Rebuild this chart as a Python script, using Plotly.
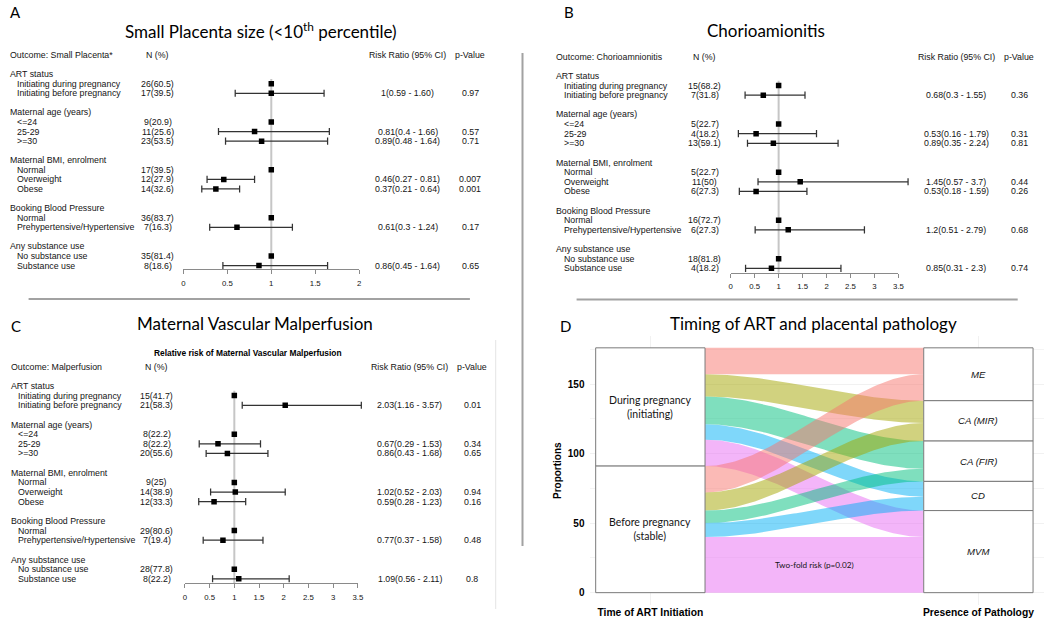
import numpy as np
import plotly.graph_objects as go

W, H = 1050, 623


def PX(x):
    return x / W


def PY(y):
    return 1 - y / H


# ------------------------------------------------------------------ data
groups = ["ART status", "Maternal age (years)", "Maternal BMI, enrolment",
          "Booking Blood Pressure", "Any substance use"]
levels = [["Initiating during pregnancy", "Initiating before pregnancy"],
          ["<=24", "25-29", ">=30"],
          ["Normal", "Overweight", "Obese"],
          ["Normal", "Prehypertensive/Hypertensive"],
          ["No substance use", "Substance use"]]
REF = 1.0

# Panel A - small placenta
a_title = "Small Placenta size (<10<sup>th</sup> percentile)"
a_outcome = "Outcome: Small Placenta*"
a_n = ["26(60.5)", "17(39.5)", "9(20.9)", "11(25.6)", "23(53.5)", "17(39.5)",
       "12(27.9)", "14(32.6)", "36(83.7)", "7(16.3)", "35(81.4)", "8(18.6)"]
a_rr = [None, 1.00, None, 0.81, 0.89, None, 0.46, 0.37, None, 0.61, None, 0.86]
a_lo = [None, 0.59, None, 0.40, 0.48, None, 0.27, 0.21, None, 0.30, None, 0.45]
a_hi = [None, 1.60, None, 1.66, 1.64, None, 0.81, 0.64, None, 1.24, None, 1.64]
a_ci = ["", "1(0.59 - 1.60)", "", "0.81(0.4 - 1.66)", "0.89(0.48 - 1.64)", "",
        "0.46(0.27 - 0.81)", "0.37(0.21 - 0.64)", "", "0.61(0.3 - 1.24)", "",
        "0.86(0.45 - 1.64)"]
a_p = ["", "0.97", "", "0.57", "0.71", "", "0.007", "0.001", "", "0.17", "", "0.65"]
a_ticks = [0, 0.5, 1, 1.5, 2]
a_ticktext = ["0", "0.5", "1", "1.5", "2"]

# Panel B - chorioamnionitis
b_title = "Chorioamionitis"
b_outcome = "Outcome: Chorioamnionitis"
b_n = ["15(68.2)", "7(31.8)", "5(22.7)", "4(18.2)", "13(59.1)", "5(22.7)",
       "11(50)", "6(27.3)", "16(72.7)", "6(27.3)", "18(81.8)", "4(18.2)"]
b_rr = [None, 0.68, None, 0.53, 0.89, None, 1.45, 0.53, None, 1.20, None, 0.85]
b_lo = [None, 0.30, None, 0.16, 0.35, None, 0.57, 0.18, None, 0.51, None, 0.31]
b_hi = [None, 1.55, None, 1.79, 2.24, None, 3.70, 1.59, None, 2.79, None, 2.30]
b_ci = ["", "0.68(0.3 - 1.55)", "", "0.53(0.16 - 1.79)", "0.89(0.35 - 2.24)", "",
        "1.45(0.57 - 3.7)", "0.53(0.18 - 1.59)", "", "1.2(0.51 - 2.79)", "",
        "0.85(0.31 - 2.3)"]
b_p = ["", "0.36", "", "0.31", "0.81", "", "0.44", "0.26", "", "0.68", "", "0.74"]
b_ticks = [0, 0.5, 1, 1.5, 2, 2.5, 3, 3.5]
b_ticktext = ["0", "0.5", "1", "1.5", "2", "2.5", "3", "3.5"]

# Panel C - maternal vascular malperfusion
c_title = "Maternal Vascular Malperfusion"
c_subtitle = "Relative risk of Maternal Vascular Malperfusion"
c_outcome = "Outcome: Malperfusion"
c_n = ["15(41.7)", "21(58.3)", "8(22.2)", "8(22.2)", "20(55.6)", "9(25)",
       "14(38.9)", "12(33.3)", "29(80.6)", "7(19.4)", "28(77.8)", "8(22.2)"]
c_rr = [None, 2.03, None, 0.67, 0.86, None, 1.02, 0.59, None, 0.77, None, 1.09]
c_lo = [None, 1.16, None, 0.29, 0.43, None, 0.52, 0.28, None, 0.37, None, 0.56]
c_hi = [None, 3.57, None, 1.53, 1.68, None, 2.03, 1.23, None, 1.58, None, 2.11]
c_ci = ["", "2.03(1.16 - 3.57)", "", "0.67(0.29 - 1.53)", "0.86(0.43 - 1.68)", "",
        "1.02(0.52 - 2.03)", "0.59(0.28 - 1.23)", "", "0.77(0.37 - 1.58)", "",
        "1.09(0.56 - 2.11)"]
c_p = ["", "0.01", "", "0.34", "0.65", "", "0.94", "0.16", "", "0.48", "", "0.8"]
c_ticks = b_ticks
c_ticktext = b_ticktext

# Panel D - alluvial
d_title = "Timing of ART and placental pathology"
d_timing = ["During pregnancy<br>(initiating)", "Before pregnancy<br>(stable)"]
d_pathology = ["ME", "CA (MIR)", "CA (FIR)", "CD", "MVM"]
d_during = [19, 16, 20, 11, 19]
d_before = [19, 13, 9, 10, 40]
d_colors = ["#F8766D", "#A3A500", "#00BF7D", "#00B0F6", "#E76BF3"]
d_axis_labels = ["Time of ART Initiation", "Presence of Pathology"]
d_note = "Two-fold risk (p=0.02)"

# ------------------------------------------------------------------ styles
TXT = "Liberation Sans, Arial, sans-serif"
TTL = "Lato, Open Sans, sans-serif"
TXTCOL = "#141414"
FS = 8.8

fig = go.Figure()
annotations = []
shapes = []
layout_axes = {}


def axname(ref):
    return ("xaxis" if ref[0] == "x" else "yaxis") + ref[1:]


def text(x, y, s, xanchor="left", size=FS, font=TXT, color=TXTCOL,
         xref="paper", yref="paper", **kw):
    annotations.append(dict(x=x, y=y, xref=xref, yref=yref, text=s,
                            showarrow=False, xanchor=xanchor, yanchor="middle",
                            font=dict(family=font, size=size, color=color),
                            borderpad=0, **kw))


def forest(cfg, outcome, n, rr, lo, hi, ci, pv, ticks, ticktext):
    xl, xd, ya = cfg["xl"], cfg["xd"], cfg["ya"]
    line0, sp = cfg["line0"], cfg["sp"]
    ybot = (cfg["axis"] - line0) / sp
    ytop = (cfg["top"] - line0) / sp
    x0, s = cfg["x0"], cfg["scale"]
    R, xmax = cfg["R"], ticks[-1]

    layout_axes[axname(ya)] = dict(domain=[PY(cfg["axis"]), PY(cfg["top"])],
                                   range=[ybot, ytop], visible=False,
                                   anchor=xl, fixedrange=True)
    layout_axes[axname(xl)] = dict(domain=[PX(x0), PX(x0 + R * s)], range=[0, R],
                                   visible=False, anchor=ya, fixedrange=True)
    layout_axes[axname(xd)] = dict(domain=[PX(x0), PX(x0 + xmax * s)],
                                   range=[0, xmax], anchor=ya, showline=True,
                                   linecolor="#8a8a8a", linewidth=1.2,
                                   ticks="outside", ticklen=4, tickwidth=1,
                                   tickcolor="#8a8a8a", tickvals=ticks,
                                   ticktext=ticktext, showgrid=False,
                                   zeroline=False, fixedrange=True,
                                   ticklabelstandoff=2,
                                   tickfont=dict(family=TXT, size=7.8, color=TXTCOL))

    # row layout
    heads, rows = [], []
    ln = 2
    for g, lv in zip(groups, levels):
        heads.append((ln, g))
        ln += 1
        for l in lv:
            rows.append((ln, l))
            ln += 1
        ln += 1

    # reference line
    fig.add_trace(go.Scatter(x=[REF, REF], y=[2.5, ybot], mode="lines",
                             line=dict(color="#c6c6c6", width=2),
                             xaxis=xl, yaxis=ya, hoverinfo="skip", showlegend=False))
    # CI lines with whiskers
    w = 0.37
    xs, ys = [], []
    for (ln, _), r, l, h in zip(rows, rr, lo, hi):
        if r is None:
            continue
        xs += [l, h, None, l, l, None, h, h, None]
        ys += [ln, ln, None, ln - w, ln + w, None, ln - w, ln + w, None]
    fig.add_trace(go.Scatter(x=xs, y=ys, mode="lines",
                             line=dict(color="#333333", width=1.25),
                             xaxis=xl, yaxis=ya, hoverinfo="skip", showlegend=False))
    # boxes
    fig.add_trace(go.Scatter(x=[REF if r is None else r for r in rr],
                             y=[ln for ln, _ in rows], mode="markers",
                             marker=dict(symbol="square", size=5.5, color="black",
                                         line=dict(width=0)),
                             xaxis=xd, yaxis=ya, hoverinfo="skip", showlegend=False))

    # texts
    gx, ix, nx, rx, pcx = cfg["gx"], cfg["ix"], cfg["nx"], cfg["rx"], cfg["pcx"]
    text(PX(gx), 0, outcome, yref=ya)
    text(PX(nx), 0, "N (%)", "center", yref=ya)
    text(PX(rx), 0, "Risk Ratio (95% CI)", "center", yref=ya)
    text(PX(pcx), 0, "p-Value", "center", yref=ya)
    for ln, g in heads:
        text(PX(gx), ln, g, yref=ya)
    for (ln, l), nn, c, p in zip(rows, n, ci, pv):
        text(PX(ix), ln, l, yref=ya)
        text(PX(nx), ln, nn, "center", yref=ya)
        if c:
            text(PX(rx), ln, c, "center", yref=ya)
        if p:
            text(PX(pcx), ln, p, "center", yref=ya)


cfgA = dict(xl="x", xd="x5", ya="y", x0=182.7, scale=88.65, R=2.3, line0=55,
            sp=9.57, axis=269.3, top=44, gx=7, ix=14.3, nx=157, rx=409, pcx=471.7)
cfgB = dict(xl="x2", xd="x6", ya="y2", x0=734.3, scale=48.3, R=4.0, line0=56.7,
            sp=9.62, axis=272.7, top=46, gx=557.6, ix=565, nx=708.3, rx=961.7, pcx=1025)
cfgC = dict(xl="x3", xd="x7", ya="y3", x0=184.3, scale=49.8, R=4.0, line0=366.7,
            sp=9.64, axis=583.3, top=356, gx=7.6, ix=15, nx=155.7, rx=410.7, pcx=473.7)

forest(cfgA, a_outcome, a_n, a_rr, a_lo, a_hi, a_ci, a_p, a_ticks, a_ticktext)
forest(cfgB, b_outcome, b_n, b_rr, b_lo, b_hi, b_ci, b_p, b_ticks, b_ticktext)
forest(cfgC, c_outcome, c_n, c_rr, c_lo, c_hi, c_ci, c_p, c_ticks, c_ticktext)

# ------------------------------------------------------------------ panel D
counts = [d_during, d_before]
total = sum(d_during) + sum(d_before)
half = 1 / 6
xL, xR = 1 + half, 2 - half

left_iv, left_strata = {}, []
y = total
for si, cs in enumerate(counts):
    top = y
    for j, c in enumerate(cs):
        left_iv[(si, j)] = (y - c, y)
        y -= c
    left_strata.append((y, top))

right_iv, right_strata = {}, []
y = total
for j in range(len(d_pathology)):
    top = y
    for si, cs in enumerate(counts):
        right_iv[(si, j)] = (y - cs[j], y)
        y -= cs[j]
    right_strata.append((y, top))


def rgba(h, a):
    h = h.lstrip("#")
    return "rgba(%d,%d,%d,%s)" % (int(h[0:2], 16), int(h[2:4], 16), int(h[4:6], 16), a)


t = np.linspace(0, 1, 80)
sm = t * t * (3 - 2 * t)
xs_curve = xL + (xR - xL) * t
for si in range(len(counts)):
    for j in range(len(d_pathology)):
        a0, a1 = left_iv[(si, j)]
        b0, b1 = right_iv[(si, j)]
        topc = a1 + (b1 - a1) * sm
        botc = a0 + (b0 - a0) * sm
        fig.add_trace(go.Scatter(
            x=np.concatenate([xs_curve, xs_curve[::-1]]),
            y=np.concatenate([topc, botc[::-1]]),
            fill="toself", mode="lines", line=dict(width=0),
            fillcolor=rgba(d_colors[j], 0.5),
            xaxis="x4", yaxis="y4", hoverinfo="skip", showlegend=False))

for (lo_, hi_), lab in zip(left_strata, d_timing):
    shapes.append(dict(type="rect", xref="x4", yref="y4", x0=1 - half, x1=1 + half,
                       y0=lo_, y1=hi_, fillcolor="white",
                       line=dict(color="#7a7a7a", width=1), layer="above"))
    text(1, (lo_ + hi_) / 2, lab, "center", size=10.5, font=TTL, xref="x4", yref="y4")
for (lo_, hi_), lab in zip(right_strata, d_pathology):
    shapes.append(dict(type="rect", xref="x4", yref="y4", x0=2 - half, x1=2 + half,
                       y0=lo_, y1=hi_, fillcolor="white",
                       line=dict(color="#7a7a7a", width=1), layer="above"))
    text(2, (lo_ + hi_) / 2, "<i>%s</i>" % lab, "center", size=9.6, xref="x4", yref="y4")

# note on the before -> MVM flow
a0, a1 = left_iv[(1, len(d_pathology) - 1)]
b0, b1 = right_iv[(1, len(d_pathology) - 1)]
text(1.5, (a0 + a1 + b0 + b1) / 4, d_note, "center", size=8.2, font=TTL,
     xref="x4", yref="y4")

pad = 0.05 * total
layout_axes["xaxis4"] = dict(domain=[PX(593), 1.0], range=[0.8175, 2.2], anchor="y4",
                             tickvals=[1, 2], ticktext=d_axis_labels, showgrid=True,
                             gridcolor="#f1f1f1", gridwidth=1, zeroline=False,
                             showline=False, ticks="", fixedrange=True,
                             tickfont=dict(family=TXT, size=10.3, color="black",
                                           weight="bold"))
layout_axes["yaxis4"] = dict(domain=[PY(604.9), PY(335.6)], range=[-pad, total + pad],
                             anchor="x4", tickvals=[0, 50, 100, 150], showgrid=True,
                             gridcolor="#f1f1f1", gridwidth=1, zeroline=False,
                             showline=False, ticks="", fixedrange=True,
                             ticklabelstandoff=5,
                             minor=dict(dtick=25, showgrid=True, gridcolor="#f4f4f4"),
                             tickfont=dict(family=TXT, size=10, color="black",
                                           weight="bold"))
text(PX(560), PY(470.3), "<b>Proportions</b>", "center", size=10, color="black",
     textangle=-90)

# ------------------------------------------------------------------ titles, letters
text(PX(261), PY(30.5), a_title, "center", size=17, font=TTL, color="black")
text(PX(770), PY(30.5), b_title, "center", size=17, font=TTL, color="black")
text(PX(254.5), PY(323.5), c_title, "center", size=17, font=TTL, color="black")
text(PX(817.8), PY(323.5), d_title, "center", size=17, font=TTL, color="black")
text(PX(248.3), PY(352.7), "<b>%s</b>" % c_subtitle, "center", size=8.4, color="black")
for lt, (lx, lyy) in zip("ABCD", [(13.7, 12.3), (571.7, 11.7), (14.5, 326), (568.3, 326)]):
    text(PX(lx), PY(lyy), lt, "center", size=15, font=TTL, color="black")

# ------------------------------------------------------------------ separators
sep = "#a2a2a2"
shapes += [
    dict(type="line", xref="paper", yref="paper", x0=PX(26.8), x1=PX(471.5),
         y0=PY(299), y1=PY(299), line=dict(color=sep, width=2)),
    dict(type="line", xref="paper", yref="paper", x0=PX(579), x1=PX(1023.5),
         y0=PY(299.5), y1=PY(299.5), line=dict(color=sep, width=2)),
    dict(type="line", xref="paper", yref="paper", x0=PX(524.5), x1=PX(524.5),
         y0=PY(53), y1=PY(546), line=dict(color=sep, width=2)),
    dict(type="line", xref="paper", yref="paper", x0=PX(497.5), x1=PX(497.5),
         y0=PY(340), y1=PY(609), line=dict(color="#e4e4e4", width=1)),
]

fig.update_layout(width=W, height=H, margin=dict(l=0, r=0, t=0, b=0),
                  paper_bgcolor="white", plot_bgcolor="rgba(0,0,0,0)",
                  showlegend=False, annotations=annotations, shapes=shapes,
                  **layout_axes)
fig.write_html("out.html", config={"displayModeBar": False},
               post_script="document.body.style.margin='0px';"
                           "document.body.style.overflow='hidden';")
